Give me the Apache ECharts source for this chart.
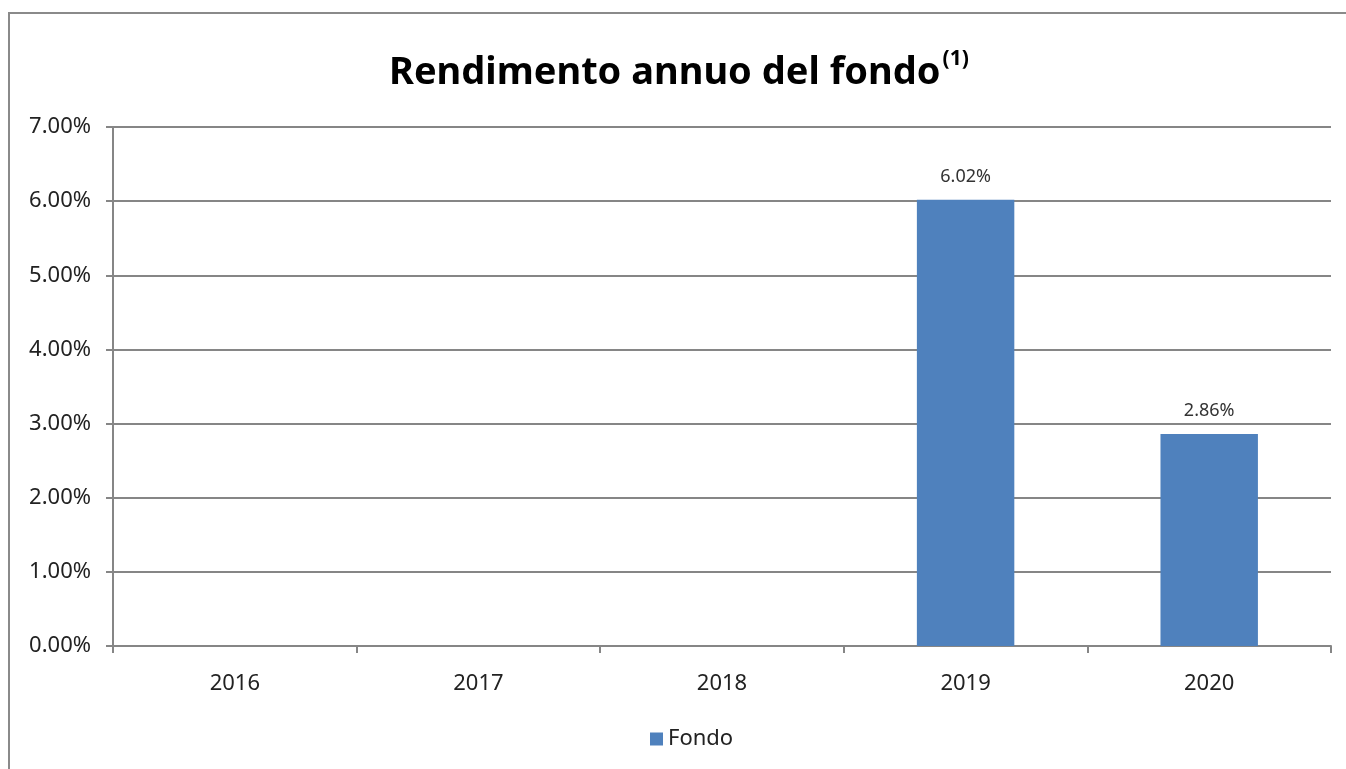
<!DOCTYPE html>
<html><head><meta charset="utf-8">
<script src="https://cdn.jsdelivr.net/npm/echarts@6/dist/echarts.min.js"></script>
<style>html,body{margin:0;padding:0;background:#fff}#c{width:1346px;height:769px}</style>
</head><body><div id="c"></div>
<script>
const categories = ['2016', '2017', '2018', '2019', '2020'];
const fondoValues = [null, null, null, 6.02, 2.86];
const yTicks = [0, 1, 2, 3, 4, 5, 6, 7];

const chart = echarts.init(document.getElementById('c'));
const F = 'Noto Sans';
chart.setOption({
  animation: false,
  textStyle: { fontFamily: F },
  graphic: [{ type: 'rect', shape: { x: 9, y: 13, width: 1400, height: 800 }, style: { fill: 'none', stroke: '#8a8a8a', lineWidth: 2 }, silent: true }],
  title: {
    text: '{a|Rendimento annuo del fondo}{s|(1)}',
    left: 384, top: 44,
    textStyle: {
      rich: {
        a: { fontFamily: F, fontWeight: 'bold', fontSize: 38, color: '#000', verticalAlign: 'bottom' },
        s: { fontFamily: F, fontWeight: 'bold', fontSize: 21, color: '#000', verticalAlign: 'top', padding: [0, 0, 22, 2] }
      }
    }
  },
  legend: { bottom: 14, left: 645, itemWidth: 13, itemHeight: 13, icon: 'rect', textStyle: { fontFamily: F, fontSize: 22, color: '#222' }, data: ['Fondo'] },
  grid: { left: 113, right: 15, top: 127, bottom: 123, containLabel: false },
  xAxis: {
    type: 'category', data: categories, boundaryGap: true,
    axisLine: { lineStyle: { color: '#868686', width: 2 } },
    axisTick: { show: true, length: 7, lineStyle: { color: '#868686', width: 2 } },
    axisLabel: { fontFamily: F, fontSize: 22, color: '#222', margin: 27 }
  },
  yAxis: {
    type: 'value', min: yTicks[0], max: yTicks[yTicks.length - 1], interval: 1,
    axisLine: { show: true, lineStyle: { color: '#868686', width: 2 } },
    axisTick: { show: true, length: 7, lineStyle: { color: '#868686', width: 2 } },
    splitLine: { lineStyle: { color: '#868686', width: 2 } },
    axisLabel: { fontFamily: F, fontSize: 22, color: '#222', margin: 22, formatter: v => v.toFixed(2) + '%' }
  },
  series: [{
    name: 'Fondo', type: 'bar', data: fondoValues, barWidth: '40%',
    itemStyle: { color: '#4F81BD' },
    label: { show: true, position: 'top', distance: 14, fontFamily: F, fontSize: 18, color: '#333', formatter: p => p.value.toFixed(2) + '%' }
  }]
});
</script></body></html>
